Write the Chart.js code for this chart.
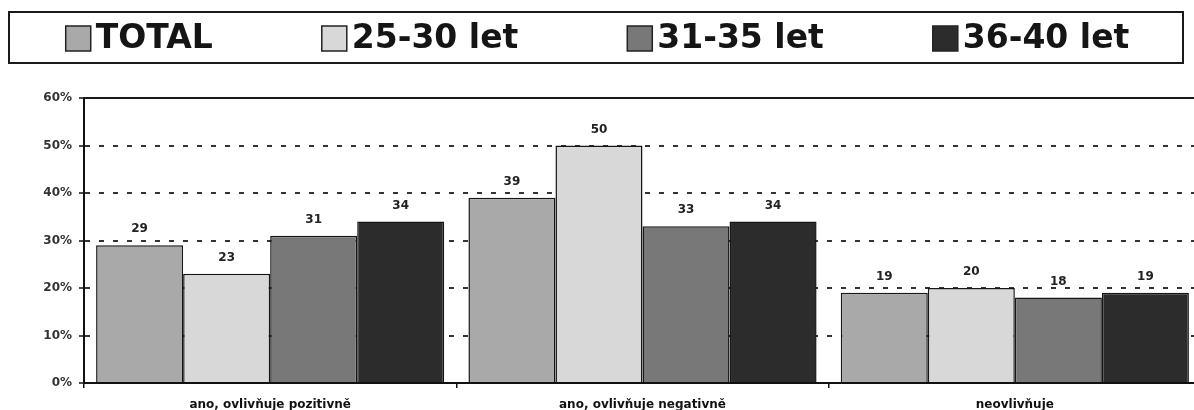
<!DOCTYPE html>
<html>
<head>
<meta charset="utf-8">
<script src="https://cdn.jsdelivr.net/npm/chart.js@4.4.1/dist/chart.umd.min.js"></script>
<style>
html, body { margin: 0; padding: 0; background: #fff; overflow: hidden; }
#wrap { width: 1194px; height: 410px; overflow: hidden; }
</style>
</head>
<body>
<div id="wrap"><canvas id="myChart" width="1212" height="410" style="width:1212px;height:410px"></canvas></div>
<script>
let categories = ['ano, ovlivňuje pozitivně', 'ano, ovlivňuje negativně', 'neovlivňuje']
let series_names = ['TOTAL', '25-30 let', '31-35 let', '36-40 let']
let total = [29, 39, 19]
let age_25_30 = [23, 50, 20]
let age_31_35 = [31, 33, 18]
let age_36_40 = [34, 34, 19]
let y_max = 60
let y_step = 10

let colors = ['#a9a9a9', '#d8d8d8', '#787878', '#2c2c2c']
let font = '"DejaVu Sans", Verdana, sans-serif'

Chart.defaults.font.family = font

// legend in a framed box across the top
const legendBox = {
    id: 'legendBox',
    afterDraw(chart) {
        let ctx = chart.ctx
        ctx.save()
        ctx.lineWidth = 2
        ctx.strokeStyle = '#1a1a1a'
        ctx.strokeRect(9, 12, 1174, 51)
        ctx.font = 'bold 33px ' + font
        ctx.textBaseline = 'middle'
        ctx.textAlign = 'left'
        let widths = series_names.map(n => 31 + ctx.measureText(n).width)
        let gap = 108
        let full = widths.reduce((a, b) => a + b, 0) + gap * (widths.length - 1)
        let x = 598 - full / 2
        series_names.forEach((name, i) => {
            ctx.fillStyle = colors[i]
            ctx.fillRect(x, 26, 25, 25)
            ctx.lineWidth = 1.5
            ctx.strokeStyle = '#222'
            ctx.strokeRect(x, 26, 25, 25)
            ctx.fillStyle = '#151515'
            ctx.fillText(name, x + 30, 39)
            x += widths[i] + gap
        })
        ctx.restore()
    }
}

// value numbers above bars + solid top line
const barValues = {
    id: 'barValues',
    afterDatasetsDraw(chart) {
        let ctx = chart.ctx
        let area = chart.chartArea
        ctx.save()
        ctx.strokeStyle = '#1a1a1a'
        ctx.lineWidth = 2
        ctx.beginPath()
        ctx.moveTo(area.left, area.top)
        ctx.lineTo(area.right, area.top)
        ctx.stroke()
        ctx.font = 'bold 12px ' + font
        ctx.fillStyle = '#222'
        ctx.textAlign = 'center'
        ctx.textBaseline = 'middle'
        chart.data.datasets.forEach((ds, i) => {
            chart.getDatasetMeta(i).data.forEach((bar, j) => {
                ctx.fillText(ds.data[j], bar.x, bar.y - 16)
            })
        })
        ctx.restore()
    }
}

var ctx = document.getElementById('myChart').getContext('2d')
var chart = new Chart(ctx, {
    type: 'bar',
    data: {
        labels: categories,
        datasets: [total, age_25_30, age_31_35, age_36_40].map((d, i) => ({
            label: series_names[i],
            data: d,
            backgroundColor: colors[i],
            borderColor: '#161616',
            borderWidth: 1.5,
            categoryPercentage: 0.935,
            barPercentage: 1
        }))
    },
    plugins: [legendBox, barValues],
    options: {
        responsive: false,
        animation: false,
        layout: { padding: { top: 98, left: 0, right: 11, bottom: 0 } },
        plugins: {
            legend: { display: false },
            tooltip: { enabled: false }
        },
        scales: {
            x: {
                afterFit: axis => { axis.height = 27 },
                grid: {
                    offset: true,
                    drawOnChartArea: false,
                    tickLength: 5,
                    color: '#111',
                    lineWidth: 1.5
                },
                border: { color: '#111', width: 2 },
                ticks: {
                    padding: 10,
                    color: '#111',
                    font: { size: 12, weight: 'bold' }
                }
            },
            y: {
                min: 0,
                max: y_max,
                afterFit: axis => { axis.width = 84 },
                grid: {
                    color: c => (c.tick && (c.tick.value === 0 || c.tick.value === y_max)) ? 'rgba(0,0,0,0)' : '#333',
                    lineWidth: 2,
                    tickColor: '#111',
                    tickWidth: 1.5,
                    tickBorderDash: [],
                    tickLength: 5
                },
                border: { color: '#111', width: 2, dash: [5, 9] },
                ticks: {
                    stepSize: y_step,
                    padding: 7,
                    color: '#333',
                    font: { size: 12, weight: 'bold' },
                    callback: v => v + '%'
                }
            }
        }
    }
})
</script>
</body>
</html>
